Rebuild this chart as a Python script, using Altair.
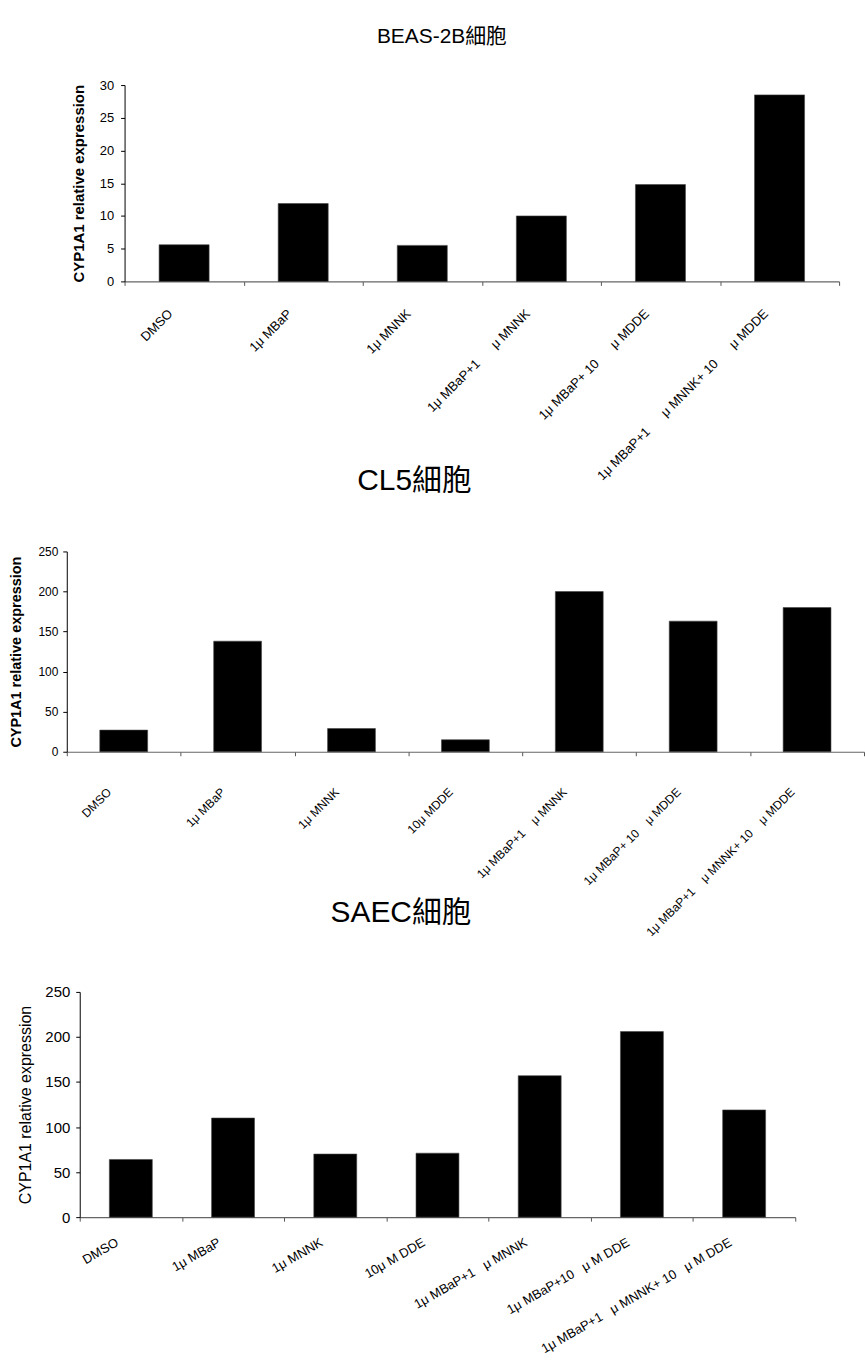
import altair as alt
import pandas as pd

NB = "\u00a0"
YTITLE = "CYP1A1 relative expression"

# ---- data ----
beas_labels = ["DMSO", "1μ MBaP", "1μ MNNK", "1μ MBaP+1      μ MNNK",
               "1μ MBaP+ 10      μ MDDE", "1μ MBaP+1      μ MNNK+ 10      μ MDDE"]
beas_values = [5.6, 11.9, 5.5, 10.0, 14.8, 28.5]

cl5_labels = ["DMSO", "1μ MBaP", "1μ MNNK", "10μ MDDE", "1μ MBaP+1    μ MNNK",
              "1μ MBaP+ 10    μ MDDE", "1μ MBaP+1    μ MNNK+ 10    μ MDDE"]
cl5_values = [27, 138, 29, 15, 200, 163, 180]

saec_labels = ["DMSO", "1μ MBaP", "1μ MNNK", "10μ M DDE", "1μ MBaP+1   μ MNNK",
               "1μ MBaP+10   μ M DDE", "1μ MBaP+1   μ MNNK+ 10   μ M DDE"]
saec_values = [64, 110, 70, 71, 157, 206, 119]

titles = ["BEAS-2B細胞", "CL5細胞", "SAEC細胞"]

SANS = "Liberation Sans, Arial, Noto Sans CJK TC"
TFONT = "Liberation Sans, Noto Sans CJK TC"


def panel(labels, values, title, width, x0, height, ymax, ystep, *,
          title_size, title_offset, title_dx,
          ytitle_weight, ytitle_size, ytitle_pad,
          ylab_size, ylab_pad,
          xlab_angle, xlab_size, xlab_pad, xlab_offset):
    df = pd.DataFrame({"label": [l.replace(" ", NB) for l in labels],
                       "value": values})
    x = alt.X("label:N", sort=None,
              scale=alt.Scale(paddingInner=0, paddingOuter=0, range=[x0, width]),
              axis=alt.Axis(title=None, labelAngle=xlab_angle, labelAlign="right",
                            labelBaseline="middle", labelFont=SANS,
                            labelFontSize=xlab_size, labelPadding=xlab_pad,
                            labelOffset=xlab_offset, labelLimit=0,
                            labelColor="black",
                            tickBand="extent", tickSize=4, tickColor="#555",
                            domainColor="#666", domainWidth=1.2))
    y = alt.Y("value:Q",
              scale=alt.Scale(domain=[0, ymax], nice=False, zero=True),
              axis=alt.Axis(values=list(range(0, ymax + 1, ystep)), title=YTITLE,
                            offset=-x0,
                            titleFont=SANS, titleFontSize=ytitle_size,
                            titleFontWeight=ytitle_weight, titlePadding=ytitle_pad,
                            titleColor="black",
                            labelFont=SANS, labelFontSize=ylab_size,
                            labelPadding=ylab_pad, labelColor="black",
                            grid=False, tickSize=4, tickColor="black",
                            domainColor="black"))
    bars = alt.Chart(df).mark_bar(color="black", stroke="#444", strokeWidth=0.6,
                                  width=alt.RelativeBandSize(0.42)).encode(x=x, y=y)
    return bars.properties(
        width=width, height=height,
        title=alt.TitleParams(text=title, font=TFONT, fontSize=title_size,
                              fontWeight="normal", color="black", anchor="middle",
                              offset=title_offset, dx=title_dx))


# plot areas: panel 1 x 122-839, panel 2 x 64-864, panel 3 x 77-795
p1 = panel(beas_labels, beas_values, titles[0], 775, 58, 197, 30, 5,
           title_size=21, title_offset=32, title_dx=-11,
           ytitle_weight="bold", ytitle_size=15, ytitle_pad=13,
           ylab_size=13, ylab_pad=7,
           xlab_angle=-45, xlab_size=13, xlab_pad=26, xlab_offset=-14)
p2 = panel(cl5_labels, cl5_values, titles[1], 800, 0, 201, 250, 50,
           title_size=30, title_offset=50, title_dx=-51,
           ytitle_weight="bold", ytitle_size=14.5, ytitle_pad=14,
           ylab_size=12, ylab_pad=5,
           xlab_angle=-45, xlab_size=12, xlab_pad=34, xlab_offset=-15)
p3 = panel(saec_labels, saec_values, titles[2], 731, 13, 226, 250, 50,
           title_size=30, title_offset=57, title_dx=-30,
           ytitle_weight="normal", ytitle_size=16, ytitle_pad=11,
           ylab_size=15, ylab_pad=6,
           xlab_angle=-30, xlab_size=13, xlab_pad=20, xlab_offset=-14)

top = alt.vconcat(p1, p2, spacing=-18)
chart = alt.vconcat(top, p3, spacing=-41).properties(
    padding={"left": 8, "top": 24, "right": 0, "bottom": 0},
    background="white",
).configure_view(stroke=None)

chart.save("out.html", embed_options={"renderer": "svg", "actions": False})
